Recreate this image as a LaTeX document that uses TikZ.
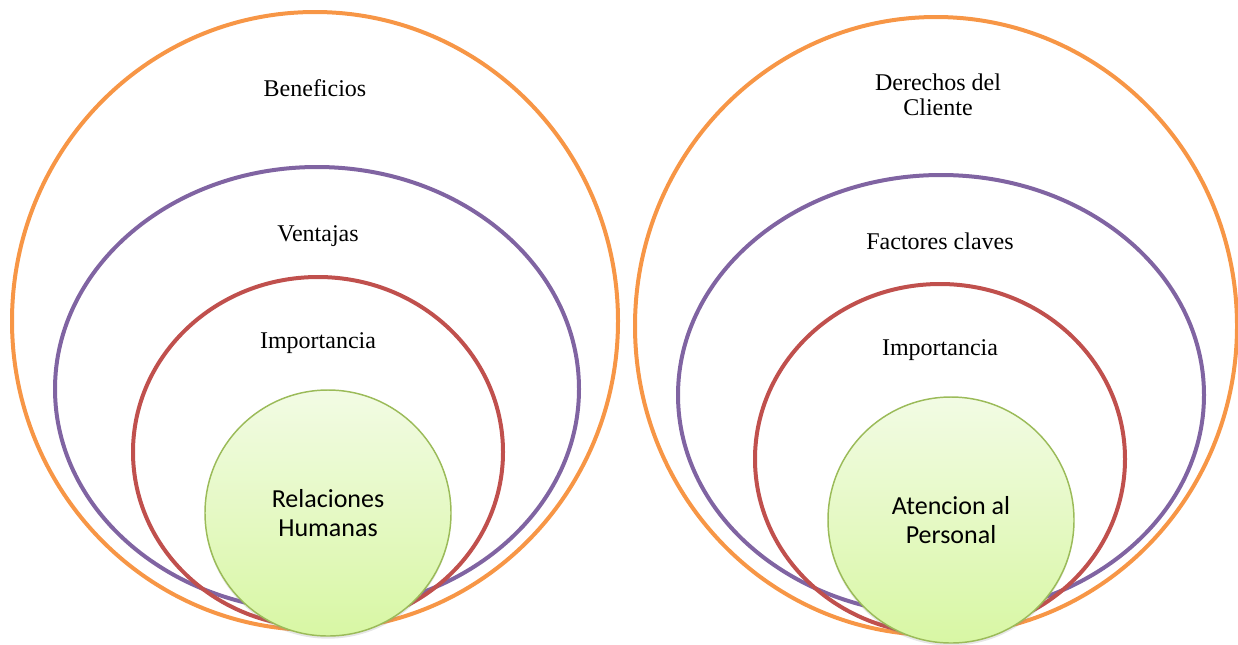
\documentclass[tikz,border=0pt]{standalone}
\usepackage{fontspec}
\setmainfont{Liberation Serif}
\newfontfamily\corefont{Carlito}
\usetikzlibrary{shadows}
\definecolor{ringorange}{HTML}{F79646}
\definecolor{ringpurple}{HTML}{8064A2}
\definecolor{ringred}{HTML}{C0504D}
\definecolor{coreedge}{HTML}{9BBB59}
\definecolor{coretop}{HTML}{F2FBE4}
\definecolor{corebottom}{HTML}{D8F7A4}

\begin{document}
\begin{tikzpicture}[
    x=0.75pt, y=-0.75pt,
    ring/.style={line width=3pt},
    core/.style={circle, draw=coreedge, line width=1.1pt,
        top color=coretop, bottom color=corebottom,
        minimum size=184.5pt, inner sep=0pt, align=center,
        font=\corefont\fontsize{19.5}{22}\selectfont,
        drop shadow={shadow xshift=0pt, shadow yshift=-2pt, opacity=0.2}},
    tag/.style={align=center, font=\fontsize{18}{18.75}\selectfont}
]
    \useasboundingbox (0,0) rectangle (1238,644);
    % left group
    \draw[ring, ringorange] (315,321) ellipse [x radius=303, y radius=309];
    \draw[ring, ringpurple] (317,389) ellipse [x radius=262, y radius=222];
    \draw[ring, ringred] (318,452) ellipse [x radius=185, y radius=175];
    \node[tag] (benef) at (315,88) {Beneficios};
    \node[tag] (vent) at (318,236) {Ventajas};
    \node[tag] (impL) at (318,343) {Importancia};
    \node[core] (rh) at (328,513) {Relaciones\\Humanas};
    % right group
    \draw[ring, ringorange] (936,326) ellipse [x radius=301, y radius=309];
    \draw[ring, ringpurple] (941,395) ellipse [x radius=263, y radius=220];
    \draw[ring, ringred] (940,459) ellipse [x radius=185, y radius=175];
    \node[tag] (der) at (938,95) {Derechos del\\Cliente};
    \node[tag] (fact) at (940,241) {Factores claves};
    \node[tag] (impR) at (940,350) {Importancia};
    \node[core] (ap) at (951,520) {Atencion al\\Personal};
\end{tikzpicture}
\end{document}
